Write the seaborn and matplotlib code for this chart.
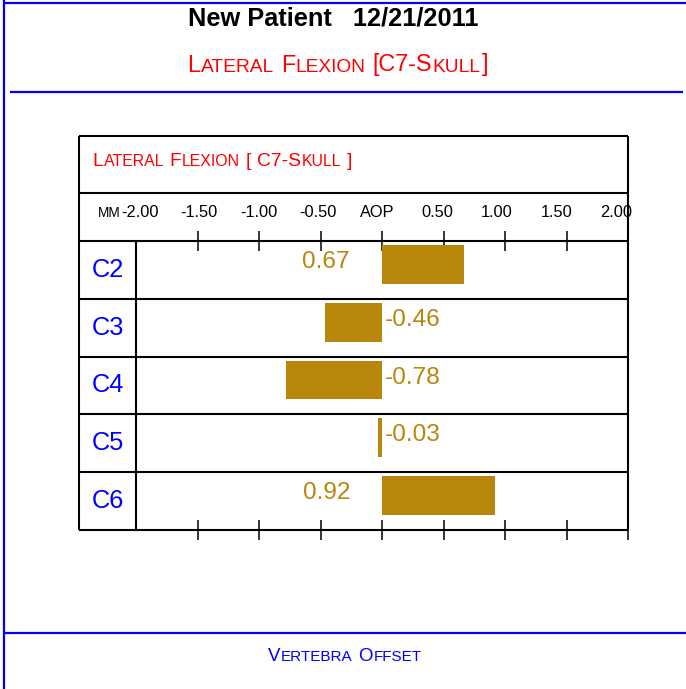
import matplotlib
matplotlib.use('Agg')
import matplotlib.pyplot as plt
import matplotlib.transforms as mtransforms
import seaborn as sns
import pandas as pd

sns.set_theme(style='white')
plt.rcParams['font.family'] = ['Liberation Sans', 'DejaVu Sans']

# data
vertebrae = ['C2', 'C3', 'C4', 'C5', 'C6']
offsets = [0.67, -0.46, -0.78, -0.03, 0.92]
tick_values = [-2.0, -1.5, -1.0, -0.5, 0.0, 0.5, 1.0, 1.5, 2.0]
tick_labels = ['-2.00', '-1.50', '-1.00', '-0.50', 'AOP', '0.50', '1.00', '1.50', '2.00']

W, H = 686, 689
GOLD = '#B8860B'
BLUE = '#0000FF'
RED = '#FF0000'
NARROW = ['Liberation Sans', 'DejaVu Sans']

fig = plt.figure(figsize=(W / 100, H / 100), dpi=100)
page = fig.add_axes([0, 0, 1, 1], zorder=0)
page.set_xlim(0, W)
page.set_ylim(H, 0)
page.axis('off')


def line(x0, x1, y0, y1, color='black', lw=1.5):
    page.plot([x0, x1], [y0, y1], color=color, lw=lw, solid_capstyle='butt')


def small_caps(x, y, s, size, color, ha='left', ratio=0.82, family=NARROW):
    # fake small caps: lowercase letters drawn as smaller capitals
    r = fig.canvas.get_renderer()
    pieces = []
    for ch in s:
        if ch == ' ':
            pieces.append((None, 0))
            continue
        sz = size * ratio if ch.islower() else size
        if pieces and pieces[-1][0] is not None and pieces[-1][1] == sz:
            pieces[-1] = (pieces[-1][0] + ch.upper(), sz)
        else:
            pieces.append((ch.upper(), sz))
    items, total = [], 0
    for txt, sz in pieces:
        if txt is None:
            w = 0.25 * size * 100 / 72
            items.append((None, w))
        else:
            t = page.text(0, y, txt, fontsize=sz, color=color, family=family,
                          va='baseline', ha='left')
            w = t.get_window_extent(r).width + 0.8
            items.append((t, w))
        total += w
    start = x - total / 2 if ha == 'center' else x
    for t, w in items:
        if t is not None:
            t.set_x(start)
        start += w


# page frame (blue)
line(4, 4, 0, H, BLUE, 1.6)
line(4, W, 3, 3, BLUE, 1.6)
line(10, 683, 92, 92, BLUE, 1.6)
line(4, W, 633, 633, BLUE, 1.6)

# header
page.text(333, 19, 'New Patient   12/21/2011', ha='center', va='center',
          fontsize=18.3, fontweight='bold', color='black')
small_caps(338, 71.5, 'Lateral Flexion [C7-Skull]', 16.8, RED, ha='center')
small_caps(345, 661, 'Vertebra Offset', 13.4, BLUE, ha='center')

# table frame
line(79, 628, 136, 136)
line(79, 628, 530, 530)
line(79, 79, 136, 530)
line(628, 628, 136, 530)
line(79, 628, 193, 193)
line(79, 628, 241, 241)
line(136, 136, 241, 530)
small_caps(92, 166, 'Lateral Flexion [ C7-Skull ]', 13.9, RED)

# bar area
ax = fig.add_axes([136 / W, 1 - 530 / H, 492 / W, 289 / H], zorder=2)
ax.patch.set_alpha(0)
df = pd.DataFrame({'vertebra': vertebrae, 'offset': offsets})
sns.barplot(data=df, x='offset', y='vertebra', orient='h', color=GOLD,
            width=0.67, saturation=1, edgecolor='none', linewidth=0, ax=ax)
d = 0.095
ax.set_xlim(-2, 2)
ax.set_ylim(len(vertebrae) - 0.5 + d, -0.5 + d)
ax.set_xticks(tick_values[1:])
ax.set_yticks([])
ax.tick_params(axis='x', top=True, bottom=True, direction='inout', length=14.4,
               width=1.1, color='black', labelbottom=False, labeltop=False)
ax.set_xlabel('')
ax.set_ylabel('')
for sp in ax.spines.values():
    sp.set_visible(False)

rows = mtransforms.blended_transform_factory(ax.transAxes, ax.transData)
for k in range(1, len(vertebrae)):
    ax.plot([-0.116, 1], [k - 0.5 + d] * 2, color='black', lw=1.5,
            transform=rows, clip_on=False, solid_capstyle='butt')

for i, name in enumerate(vertebrae):
    ax.text(-0.057, i + d, name, transform=rows, ha='center', va='center',
            color=BLUE, fontsize=18.3)

for i, v in enumerate(offsets):
    if v > 0:
        ax.annotate(f'{v:.2f}', xy=(0, i), xytext=(-23, 1.8), textcoords='offset points',
                    ha='right', va='center', color=GOLD, fontsize=17.6)
    else:
        ax.annotate(f'{v:.2f}', xy=(0, i), xytext=(2.2, 1.8), textcoords='offset points',
                    ha='left', va='center', color=GOLD, fontsize=17.6)

# scale labels in the header row
cols = mtransforms.blended_transform_factory(ax.transData, ax.transAxes)
for v, lab in zip(tick_values, tick_labels):
    t = ax.text(v * 0.968 - 0.035, 1.097, lab, transform=cols, ha='center',
                va='center', fontsize=11.8, color='black')
    if v == tick_values[0]:
        ax.annotate('MM', xy=(0, 0), xycoords=t, ha='right', va='bottom',
                    fontsize=9.8, color='black')

fig.savefig('out.png', dpi=100)
